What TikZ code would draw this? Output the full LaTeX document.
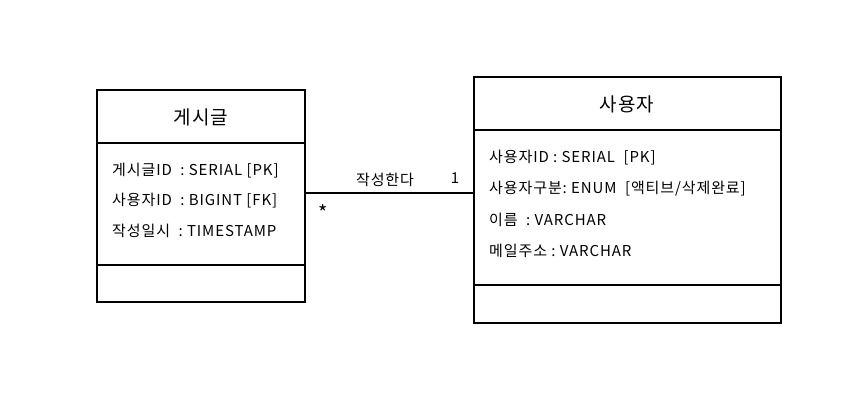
\documentclass[tikz,border=0pt]{standalone}
\usepackage{fontspec}
\setmainfont{Noto Sans CJK KR}
\newfontfamily\wide[LetterSpace=6]{Noto Sans CJK KR}
\begin{document}
\begin{tikzpicture}[x=1pt,y=-1pt,
  box/.style={draw,line width=1.2pt},
  ttl/.style={font=\wide\fontsize{19}{22}\selectfont},
  attr/.style={font=\wide\fontsize{15}{17}\selectfont,anchor=west,inner sep=0},
  lbl/.style={font=\wide\fontsize{15}{17}\selectfont,inner sep=0}]
\useasboundingbox (0,0) rectangle (867,419);
% left
\draw[box] (97,90) rectangle (305,302);
\draw[box] (97,143) -- (305,143);
\draw[box] (97,265) -- (305,265);
\node[ttl] (lt) at (201,117) {게시글};
\node[attr] (l1) at (112,171) {게시글ID\ \ :\ SERIAL [PK]};
\node[attr] (l2) at (112,201) {사용자ID\ \ :\ BIGINT [FK]};
\node[attr] (l3) at (112,231) {작성일시\ \ :\ TIMESTAMP};
% right
\draw[box] (474,77) rectangle (781,323);
\draw[box] (474,130) -- (781,130);
\draw[box] (474,285) -- (781,285);
\node[ttl] (rt) at (627,104) {사용자};
\node[attr] (r1) at (489,158) {사용자ID\ :\ SERIAL\ \ [PK]};
\node[attr] (r2) at (489,189) {사용자구분:\ ENUM\ \ [액티브/삭제완료]};
\node[attr] (r3) at (489,220) {이름\ \ :\ VARCHAR};
\node[attr] (r4) at (489,251) {메일주소\ :\ VARCHAR};
\coordinate (a) at (305,193);
\coordinate (b) at (474,193);
\draw[line width=1.2pt] (a) -- (b);
\node[lbl] (m) at (385,180) {작성한다};
\node[lbl] (one) at (455,178) {1};
\node[lbl,font=\fontsize{20}{20}\selectfont] (st) at (323,213) {*};
\end{tikzpicture}
\end{document}
